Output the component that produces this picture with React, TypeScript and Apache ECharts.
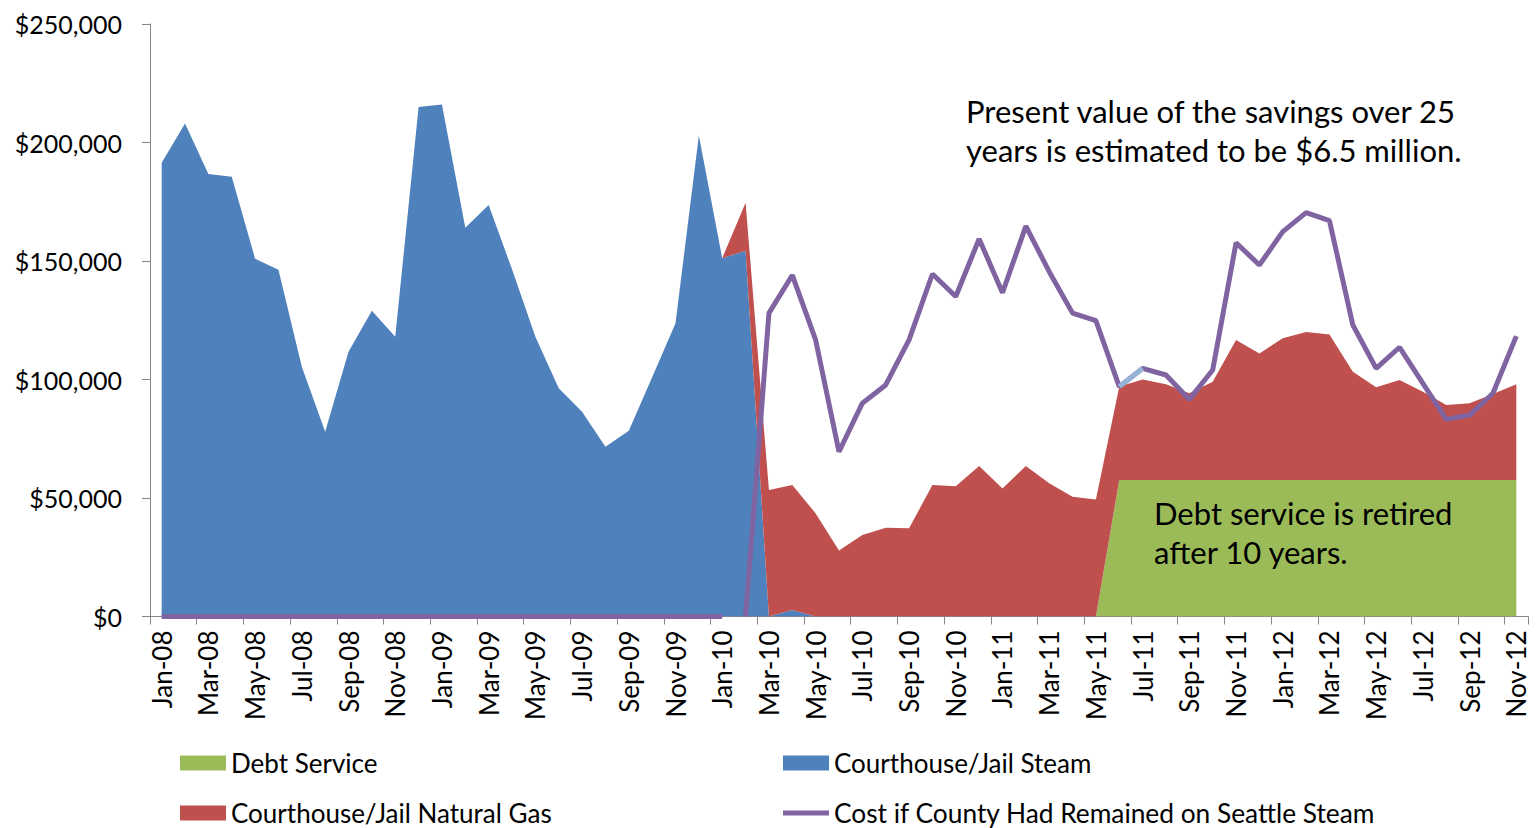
import React, { useEffect, useRef } from "react";
import * as echarts from "echarts";

const months = [
  "Jan-08", "Feb-08", "Mar-08", "Apr-08", "May-08", "Jun-08", "Jul-08", "Aug-08", "Sep-08", "Oct-08", "Nov-08", "Dec-08",
  "Jan-09", "Feb-09", "Mar-09", "Apr-09", "May-09", "Jun-09", "Jul-09", "Aug-09", "Sep-09", "Oct-09", "Nov-09", "Dec-09",
  "Jan-10", "Feb-10", "Mar-10", "Apr-10", "May-10", "Jun-10", "Jul-10", "Aug-10", "Sep-10", "Oct-10", "Nov-10", "Dec-10",
  "Jan-11", "Feb-11", "Mar-11", "Apr-11", "May-11", "Jun-11", "Jul-11", "Aug-11", "Sep-11", "Oct-11", "Nov-11", "Dec-11",
  "Jan-12", "Feb-12", "Mar-12", "Apr-12", "May-12", "Jun-12", "Jul-12", "Aug-12", "Sep-12", "Oct-12", "Nov-12",
];

// Debt service (0 until the switch, then flat)
const debtService = [
  0, 0, 0, 0, 0, 0, 0, 0, 0, 0, 0, 0,
  0, 0, 0, 0, 0, 0, 0, 0, 0, 0, 0, 0,
  0, 0, 0, 0, 0, 0, 0, 0, 0, 0, 0, 0,
  0, 0, 0, 0, 0, 57600, 57600, 57600, 57600, 57600, 57600, 57600,
  57600, 57600, 57600, 57600, 57600, 57600, 57600, 57600, 57600, 57600, 57600,
];

const steam = [
  191500, 208000, 186700, 185500, 151000, 146300, 105400, 78000, 111700, 129000, 118000, 215000,
  216000, 164000, 173600, 146500, 118000, 96300, 86400, 71600, 78400, 101000, 123700, 203000,
  151200, 154300, 0, 2700, 0, 0, 0, 0, 0, 0, 0, 0,
  0, 0, 0, 0, 0, 0, 0, 0, 0, 0, 0, 0,
  0, 0, 0, 0, 0, 0, 0, 0, 0, 0, 0,
];

const naturalGas = [
  0, 0, 0, 0, 0, 0, 0, 0, 0, 0, 0, 0,
  0, 0, 0, 0, 0, 0, 0, 0, 0, 0, 0, 0,
  0, 20300, 53400, 52800, 43500, 27800, 34400, 37500, 37200, 55500, 55000, 63500,
  54000, 63500, 56200, 50500, 49400, 39400, 42400, 40400, 36600, 41400, 59100, 53400,
  59800, 62400, 61400, 45700, 39100, 42200, 37200, 31600, 32400, 36300, 40400,
];

// Cost if County had remained on Seattle Steam: zero baseline Jan-08..Jan-10
const seattleBaseline = [
  0, 0, 0, 0, 0, 0, 0, 0, 0, 0, 0, 0,
  0, 0, 0, 0, 0, 0, 0, 0, 0, 0, 0, 0,
  0,
];
// from Feb-10 onward
const seattleStartMonth = "Feb-10";
const seattleCost = [
  0, 128000, 144000, 116700, 69500, 90000, 97700, 116700, 144500, 135000, 159300,
  136600, 164700, 145500, 128000, 124800, 97000, 104700, 101900, 91600, 104000, 157700, 148300,
  162400, 170400, 167000, 123000, 104700, 113600, 98400, 83200, 85000, 94200, 118300,
];
// one segment drawn in light blue in the original
const seattleHighlight: [string, number][] = [
  ["Jun-11", 97000],
  ["Jul-11", 104700],
];

const yTicks = { min: 0, max: 250000, interval: 50000 };

const FONT = "Lato";

export default function App() {
  const ref = useRef<HTMLDivElement>(null);

  useEffect(() => {
    if (!ref.current) return;
    const chart = echarts.init(ref.current, null, { renderer: "svg" });
    const startIdx = months.indexOf(seattleStartMonth);
    const seattleData = seattleCost.map((v, i) => [months[startIdx + i], v]);

    const areaSeries = (name: string, data: number[], color: string) => ({
      name,
      type: "line",
      stack: "total",
      data,
      symbol: "none",
      showSymbol: false,
      color,
      lineStyle: { width: 0, color },
      areaStyle: { color, opacity: 1 },
      emphasis: { disabled: true },
    });

    const legendText = { fontFamily: FONT, fontSize: 26, color: "#000", lineHeight: 30 };
    const legendCommon = {
      itemWidth: 46,
      itemHeight: 15,
      padding: 0,
      itemGap: 0,
      selectedMode: false,
      textStyle: legendText,
    };

    chart.setOption({
      animation: false,
      backgroundColor: "#fff",
      grid: { left: 150, right: 11, top: 24, bottom: 211.5, containLabel: false },
      xAxis: {
        type: "category",
        data: months,
        boundaryGap: true,
        axisLine: { show: true, lineStyle: { color: "#868686", width: 1 } },
        axisTick: { show: true, interval: 1, length: 8, lineStyle: { color: "#868686" } },
        axisLabel: {
          interval: 1,
          rotate: 90,
          margin: 14,
          fontFamily: FONT,
          fontSize: 26,
          color: "#000",
        },
        splitLine: { show: false },
      },
      yAxis: {
        type: "value",
        min: yTicks.min,
        max: yTicks.max,
        interval: yTicks.interval,
        axisLine: { show: true, lineStyle: { color: "#868686", width: 1 } },
        axisTick: { show: true, length: 8, lineStyle: { color: "#868686" } },
        axisLabel: {
          margin: 28,
          fontFamily: FONT,
          fontSize: 25,
          color: "#000",
          formatter: (v: number) => "$" + v.toLocaleString("en-US"),
        },
        splitLine: { show: false },
      },
      legend: [
        { ...legendCommon, left: 180, top: 748, data: [{ name: "Debt Service", icon: "rect" }] },
        { ...legendCommon, left: 783, top: 748, data: [{ name: "Courthouse/Jail Steam", icon: "rect" }] },
        { ...legendCommon, left: 180, top: 798, data: [{ name: "Courthouse/Jail Natural Gas", icon: "rect" }] },
        {
          ...legendCommon,
          left: 783,
          top: 798,
          itemHeight: 5,
          textStyle: { ...legendText, fontSize: 26.3 },
          data: [{ name: "Cost if County Had Remained on Seattle Steam", icon: "rect" }],
        },
      ],
      series: [
        areaSeries("Debt Service", debtService, "#9BBB59"),
        areaSeries("Courthouse/Jail Steam", steam, "#4F81BD"),
        areaSeries("Courthouse/Jail Natural Gas", naturalGas, "#C0504D"),
        {
          name: "Cost if County Had Remained on Seattle Steam (baseline)",
          type: "line",
          data: seattleBaseline,
          symbol: "none",
          color: "#8064A2",
          lineStyle: { width: 5, color: "#8064A2" },
          emphasis: { disabled: true },
        },
        {
          name: "Cost if County Had Remained on Seattle Steam",
          type: "line",
          data: seattleData,
          symbol: "none",
          color: "#8064A2",
          lineStyle: { width: 5, color: "#8064A2" },
          emphasis: { disabled: true },
        },
        {
          name: "highlight",
          type: "line",
          data: seattleHighlight,
          symbol: "none",
          color: "#95B3D7",
          lineStyle: { width: 5, color: "#95B3D7" },
          emphasis: { disabled: true },
        },
      ],
      graphic: [
        {
          type: "text",
          left: 966,
          top: 91,
          z: 100,
          style: {
            text: "Present value of the savings over 25\nyears is estimated to be $6.5 million.",
            fontFamily: FONT,
            fontSize: 31,
            lineHeight: 39,
            fill: "#000",
          },
        },
        {
          type: "text",
          left: 1154,
          top: 493,
          z: 100,
          style: {
            text: "Debt service is retired\nafter 10 years.",
            fontFamily: FONT,
            fontSize: 31,
            lineHeight: 39,
            fill: "#000",
          },
        },
      ],
    });

    return () => chart.dispose();
  }, []);

  return (
    <div
      ref={ref}
      style={{ position: "fixed", left: 0, top: 0, width: "1539px", height: "828px" }}
    />
  );
}
